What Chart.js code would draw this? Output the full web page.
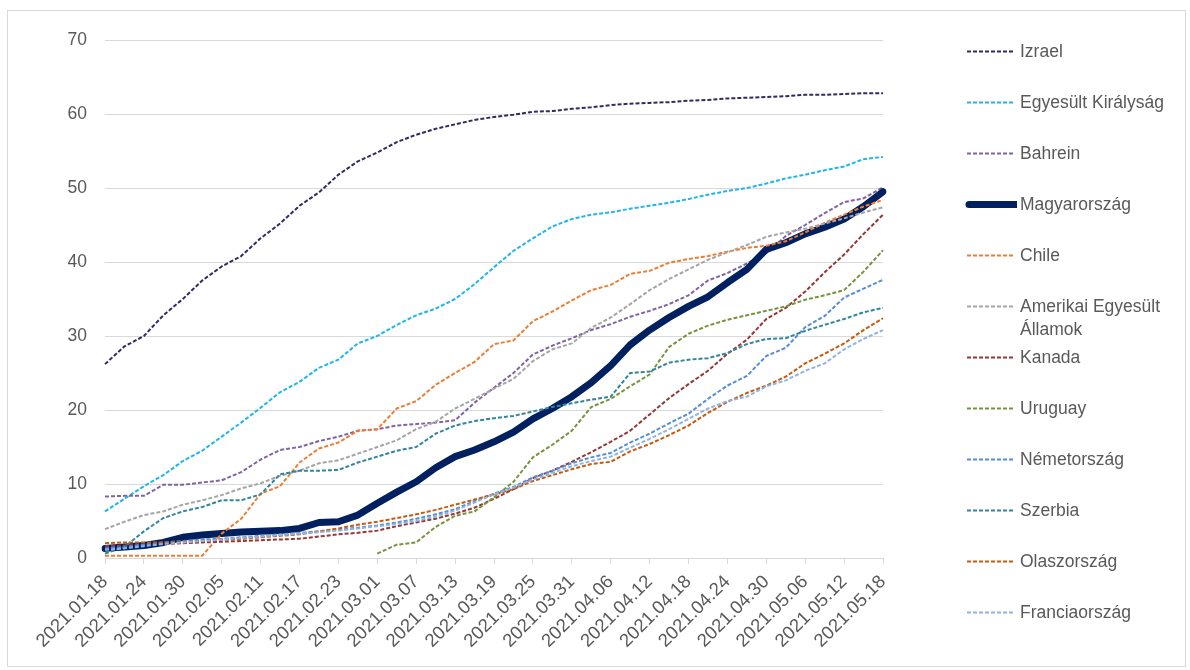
<!DOCTYPE html>
<html>
<head>
<meta charset="utf-8">
<script src="https://cdn.jsdelivr.net/npm/chart.js@4"></script>
<style>
  body { margin: 0; background: #fff; }
  #wrap { position: relative; width: 1190px; height: 670px; }
  #frame { position: absolute; left: 7px; top: 10px; width: 1179px; height: 657px; border: 1px solid #d9d9d9; box-sizing: border-box; }
  #myChart { position: absolute; left: 0; top: 0; }
  #legend { position: absolute; left: 0; top: 0; font-family: "Liberation Sans", Arial, sans-serif; font-size: 17.5px; color: #595959; }
  .item { position: absolute; left: 964px; display: flex; align-items: flex-start; }
  .item svg { flex: none; margin-top: 0; }
  .item span { display: block; width: 152px; line-height: 23px; margin-left: 3px; }
</style>
</head>
<body>
<div id="wrap">
  <div id="frame"></div>
  <canvas id="myChart" width="1190" height="670"></canvas>
  <div id="legend"></div>
</div>
<script>
// dates every 3 days, 2021.01.18 - 2021.05.18
const dates = [
  "2021.01.18", "2021.01.21", "2021.01.24", "2021.01.27", "2021.01.30", "2021.02.02", "2021.02.05",
  "2021.02.08", "2021.02.11", "2021.02.14", "2021.02.17", "2021.02.20", "2021.02.23", "2021.02.26",
  "2021.03.01", "2021.03.04", "2021.03.07", "2021.03.10", "2021.03.13", "2021.03.16", "2021.03.19",
  "2021.03.22", "2021.03.25", "2021.03.28", "2021.03.31", "2021.04.03", "2021.04.06", "2021.04.09",
  "2021.04.12", "2021.04.15", "2021.04.18", "2021.04.21", "2021.04.24", "2021.04.27", "2021.04.30",
  "2021.05.03", "2021.05.06", "2021.05.09", "2021.05.12", "2021.05.15", "2021.05.18"
];

const izrael = [26.2, 28.6, 30.0, 32.8, 35.0, 37.5, 39.4, 40.8, 43.2, 45.2, 47.6, 49.4, 51.8, 53.6,
  54.8, 56.2, 57.2, 58.0, 58.6, 59.2, 59.6, 59.9, 60.3, 60.4, 60.7, 60.9, 61.2, 61.4, 61.5, 61.6,
  61.8, 61.9, 62.1, 62.2, 62.3, 62.4, 62.6, 62.6, 62.7, 62.8, 62.8];
const egyesultKiralysag = [6.3, 8.0, 9.7, 11.2, 13.1, 14.5, 16.4, 18.3, 20.3, 22.4, 23.8, 25.7, 26.8,
  29.0, 30.0, 31.5, 32.8, 33.7, 35.0, 37.0, 39.3, 41.5, 43.2, 44.8, 45.8, 46.4, 46.7, 47.2, 47.6,
  48.0, 48.5, 49.1, 49.6, 50.0, 50.6, 51.3, 51.8, 52.4, 52.9, 53.9, 54.2];
const bahrein = [8.3, 8.4, 8.4, 9.9, 9.9, 10.2, 10.5, 11.6, 13.3, 14.6, 15.0, 15.8, 16.4, 17.2, 17.4,
  17.9, 18.1, 18.3, 18.6, 21.0, 23.0, 25.0, 27.5, 28.7, 29.7, 30.8, 31.6, 32.6, 33.4, 34.3, 35.5,
  37.5, 38.5, 39.8, 41.2, 43.5, 45.0, 46.6, 48.1, 48.6, 50.1];
const magyarorszag = [1.3, 1.5, 1.7, 2.1, 2.8, 3.1, 3.3, 3.5, 3.6, 3.7, 4.0, 4.8, 4.9, 5.8, 7.4, 8.9,
  10.3, 12.2, 13.7, 14.6, 15.7, 17.0, 18.8, 20.2, 21.8, 23.7, 26.0, 28.8, 30.8, 32.5, 34.0, 35.3,
  37.2, 39.0, 41.7, 42.6, 43.8, 44.7, 45.8, 47.5, 49.5];
const chile = [0.3, 0.3, 0.3, 0.3, 0.3, 0.3, 3.3, 5.3, 8.7, 9.7, 12.9, 14.8, 15.6, 17.2, 17.4, 20.2,
  21.2, 23.4, 25.0, 26.5, 28.9, 29.4, 32.0, 33.3, 34.8, 36.2, 36.9, 38.4, 38.8, 39.9, 40.4, 40.8,
  41.4, 41.9, 42.2, 42.8, 44.0, 45.3, 46.4, 47.5, 48.4];
const usa = [3.9, 4.9, 5.8, 6.3, 7.2, 7.8, 8.5, 9.4, 10.1, 11.1, 11.8, 12.8, 13.2, 14.1, 15.0, 15.9,
  17.4, 18.4, 20.2, 21.5, 22.9, 24.2, 26.6, 28.2, 29.0, 31.1, 32.5, 34.3, 36.2, 37.7, 39.0, 40.3,
  41.3, 42.3, 43.4, 44.0, 44.5, 45.2, 45.9, 46.7, 47.4];
const kanada = [1.6, 1.7, 1.8, 1.9, 2.0, 2.1, 2.2, 2.3, 2.4, 2.5, 2.6, 2.9, 3.2, 3.4, 3.7, 4.3, 4.8,
  5.3, 6.0, 6.8, 8.0, 9.3, 10.8, 11.8, 13.0, 14.3, 15.7, 17.2, 19.4, 21.6, 23.5, 25.3, 27.6, 29.5,
  32.3, 33.8, 36.0, 38.6, 41.0, 43.8, 46.4];
const uruguay = [null, null, null, null, null, null, null, null, null, null, null, null, null, null,
  0.6, 1.8, 2.1, 4.2, 5.7, 6.3, 8.2, 10.3, 13.6, 15.3, 17.2, 20.4, 21.5, 23.2, 24.8, 28.5, 30.3,
  31.4, 32.2, 32.8, 33.4, 34.0, 34.9, 35.5, 36.2, 38.7, 41.6];
const nemetorszag = [1.3, 1.5, 1.8, 2.1, 2.3, 2.5, 2.6, 2.8, 3.0, 3.2, 3.4, 3.6, 3.8, 4.1, 4.4, 4.8,
  5.3, 5.9, 6.6, 7.7, 8.7, 9.6, 10.9, 11.8, 12.8, 13.6, 14.2, 15.6, 16.8, 18.2, 19.5, 21.5, 23.3,
  24.6, 27.3, 28.4, 31.2, 32.7, 35.2, 36.4, 37.6];
const szerbia = [0.6, 1.5, 3.6, 5.4, 6.3, 6.9, 7.8, 7.8, 8.6, 11.3, 11.8, 11.8, 11.9, 12.9, 13.7,
  14.5, 15.0, 16.8, 17.9, 18.5, 18.9, 19.2, 19.8, 20.4, 20.9, 21.4, 21.8, 25.0, 25.2, 26.4, 26.8,
  27.0, 27.7, 28.9, 29.6, 29.7, 30.7, 31.5, 32.3, 33.2, 33.8];
const olaszorszag = [2.0, 2.1, 2.1, 2.1, 2.2, 2.3, 2.5, 2.6, 2.8, 3.0, 3.2, 3.6, 4.0, 4.5, 4.9, 5.4,
  5.9, 6.5, 7.2, 7.9, 8.6, 9.3, 10.4, 11.2, 12.0, 12.7, 13.0, 14.4, 15.4, 16.6, 17.9, 19.6, 21.1,
  22.3, 23.3, 24.5, 26.3, 27.6, 29.0, 30.8, 32.4];
const franciaorszag = [1.1, 1.3, 1.6, 1.9, 2.1, 2.3, 2.5, 2.7, 2.9, 3.1, 3.3, 3.5, 3.7, 4.0, 4.3, 4.6,
  5.0, 5.6, 6.4, 7.5, 8.6, 9.5, 10.6, 11.5, 12.4, 13.1, 13.7, 14.9, 16.1, 17.4, 18.8, 20.2, 21.2,
  21.8, 23.2, 24.0, 25.3, 26.3, 28.2, 29.6, 30.8];

const yTicks = [0, 10, 20, 30, 40, 50, 60, 70];

const series = [
  { label: "Izrael", data: izrael, color: "#2f2c60" },
  { label: "Egyesült Királyság", data: egyesultKiralysag, color: "#1fb5ef" },
  { label: "Bahrein", data: bahrein, color: "#8064a2" },
  { label: "Magyarország", data: magyarorszag, color: "#002060", thick: true },
  { label: "Chile", data: chile, color: "#ed7d31" },
  { label: "Amerikai Egyesült Államok", data: usa, color: "#a5a5a5" },
  { label: "Kanada", data: kanada, color: "#953735" },
  { label: "Uruguay", data: uruguay, color: "#77933c" },
  { label: "Németország", data: nemetorszag, color: "#558ed5" },
  { label: "Szerbia", data: szerbia, color: "#31859c" },
  { label: "Olaszország", data: olaszorszag, color: "#c55a11" },
  { label: "Franciaország", data: franciaorszag, color: "#8eb4e3" }
];

const family = "'Liberation Sans', Arial, sans-serif";

const ctx = document.getElementById("myChart").getContext("2d");

const myChart = new Chart(ctx, {
  type: "line",
  data: {
    labels: dates,
    datasets: series.map((s, i) => ({
      label: s.label,
      data: s.data,
      borderColor: s.color,
      backgroundColor: s.color,
      borderWidth: s.thick ? 7 : 2,
      borderDash: s.thick ? [] : [4, 2],
      borderCapStyle: s.thick ? "round" : "butt",
      borderJoinStyle: "round",
      pointRadius: 0,
      tension: 0,
      order: series.length - i // later series on top
    }))
  },
  options: {
    responsive: false,
    animation: false,
    devicePixelRatio: 1,
    layout: { padding: { left: 0, top: 40, right: 307, bottom: 0 } },
    plugins: {
      legend: { display: false },
      tooltip: { enabled: false }
    },
    scales: {
      x: {
        grid: { drawOnChartArea: false, drawTicks: true, tickLength: 6, color: "#d9d9d9" },
        border: { display: true, color: "#d9d9d9" },
        ticks: {
          autoSkip: false,
          maxRotation: 45,
          minRotation: 45,
          padding: 7,
          color: "#595959",
          font: { family: family, size: 18.5 },
          callback: function (value, index) {
            return index % 2 === 0 ? dates[index] : null;
          }
        },
        afterFit: function (scale) { scale.height = 112; }
      },
      y: {
        min: 0,
        max: 70,
        afterBuildTicks: function (scale) {
          scale.ticks = yTicks.map((v) => ({ value: v }));
        },
        grid: { color: "#d9d9d9", drawTicks: false },
        border: { display: false },
        ticks: { padding: 18, color: "#595959", font: { family: family, size: 17.5 } },
        afterFit: function (scale) { scale.width = 105; }
      }
    }
  }
});

// legend on the right, built from the datasets
const legendEl = document.getElementById("legend");
myChart.data.datasets.forEach((ds, i) => {
  const center = 51.7 + 50.96 * i;
  const item = document.createElement("div");
  item.className = "item";
  item.style.top = (center - 11.5) + "px";
  const thick = ds.borderWidth > 2;
  const line = thick
    ? '<line x1="5" y1="11.5" x2="52" y2="11.5" stroke="' + ds.borderColor + '" stroke-width="7" stroke-linecap="round"/>'
    : '<line x1="3" y1="11.5" x2="51" y2="11.5" stroke="' + ds.borderColor + '" stroke-width="2" stroke-dasharray="4 2"/>';
  item.innerHTML = '<svg width="53" height="23">' + line + '</svg><span>' + ds.label + '</span>';
  legendEl.appendChild(item);
});
</script>
</body>
</html>
